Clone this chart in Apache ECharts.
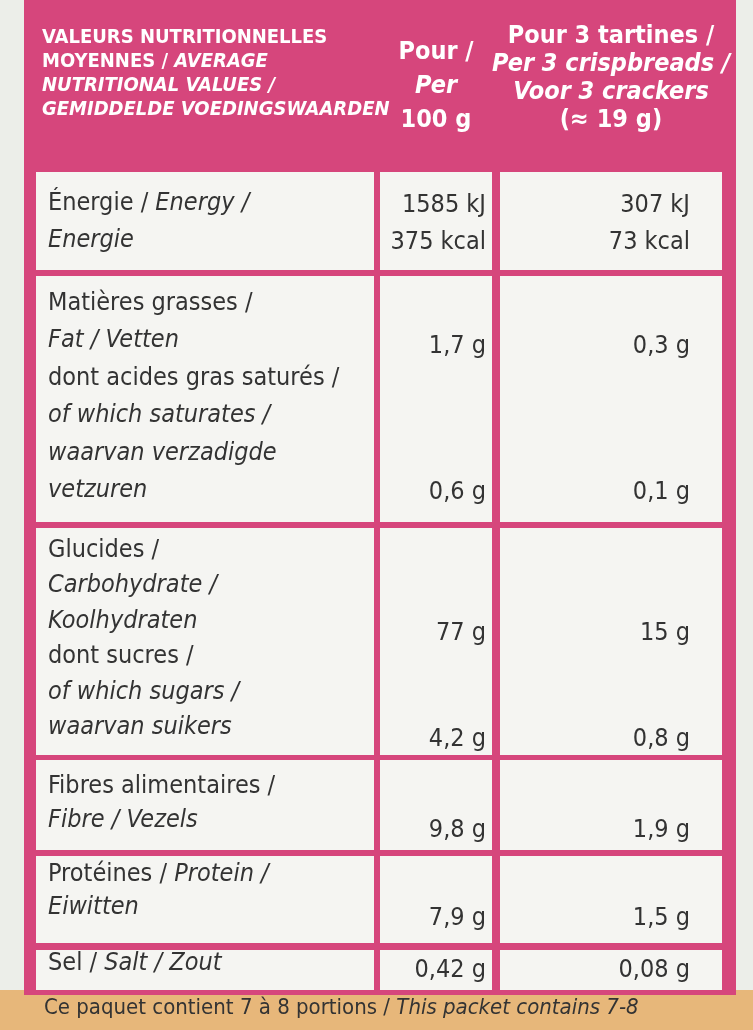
<!DOCTYPE html><html><head><meta charset="utf-8">
<script src="https://cdn.jsdelivr.net/npm/echarts@6/dist/echarts.min.js"></script>
<style>html,body{margin:0;padding:0;background:#e9ebe8}#c{width:753px;height:1030px}</style></head><body><div id="c"></div>
<script>
const headers=[
 ["VALEURS NUTRITIONNELLES","MOYENNES / {i|AVERAGE}","{i|NUTRITIONAL VALUES /}","{i|GEMIDDELDE VOEDINGSWAARDEN}"],
 ["Pour /","{i|Per}","100 g"],
 ["Pour 3 tartines /","{i|Per 3 crispbreads /}","{i|Voor 3 crackers}","(≈ 19 g)"]
];
const rowLabels=[
 ["Énergie / {i|Energy /}","{i|Energie}"],
 ["Matières grasses /","{i|Fat / Vetten}","dont acides gras saturés /","{i|of which saturates /}","{i|waarvan verzadigde}","{i|vetzuren}"],
 ["Glucides /","{i|Carbohydrate /}","{i|Koolhydraten}","dont sucres /","{i|of which sugars /}","{i|waarvan suikers}"],
 ["Fibres alimentaires /","{i|Fibre / Vezels}"],
 ["Protéines / {i|Protein /}","{i|Eiwitten}"],
 ["Sel / {i|Salt / Zout}"]
];
const per100=[["1585 kJ","375 kcal"],["1,7 g","0,6 g"],["77 g","4,2 g"],["9,8 g"],["7,9 g"],["0,42 g"]];
const perServing=[["307 kJ","73 kcal"],["0,3 g","0,1 g"],["15 g","0,8 g"],["1,9 g"],["1,5 g"],["0,08 g"]];
const footer="Ce paquet contient 7 à 8 portions / {i|This packet contains 7-8}";

// layout
const valueY=[[205,242],[346,492],[633,739],[830],[918],[970]];
const rowTops=[172,276,528,760,856,950], rowBots=[270,522,755,850,943,990];
const firstLine=[203,303,550,786,874,963], lineH=[37,37.5,35.5,34,33,36];
const colL=[36,380,500], colR=[374,492,722];
const pink='#d6467c', font='"Liberation Sans Narrow","DejaVu Sans Condensed",sans-serif';
const rich={i:{fontStyle:'italic',fontFamily:font,fontSize:25,fill:'#333'}};
const g=[];
g.push({type:'rect',shape:{x:0,y:0,width:753,height:1030},style:{fill:'#eceee9'}});
g.push({type:'rect',shape:{x:0,y:990,width:753,height:40},style:{fill:'#e7b77a'}});
g.push({type:'rect',shape:{x:24,y:0,width:712,height:995},style:{fill:pink}});
headers.forEach((h,c)=>{
  const left=c===0;
  const fs=c===0?20:25, lh=c===0?24:28;
  const y0=c===0?38:(c===1?52:36);
  h.forEach((t,k)=>g.push({type:'text',x:left?42:(colL[c]+colR[c])/2,y:y0+k*(c===1?34:lh),
   style:{text:t,fontFamily:font,fontSize:fs,fontWeight:'bold',fill:'#fff',align:left?'left':'center',verticalAlign:'middle',
   rich:{i:{fontStyle:'italic',fontFamily:font,fontSize:fs,fontWeight:'bold',fill:'#fff'}}}}));
});
rowTops.forEach((t,r)=>{
  for(let c=0;c<3;c++) g.push({type:'rect',shape:{x:colL[c],y:t,width:colR[c]-colL[c],height:rowBots[r]-t},style:{fill:'#f5f5f2'}});
  rowLabels[r].forEach((s,k)=>g.push({type:'text',x:48,y:firstLine[r]+k*lineH[r],style:{text:s,fontFamily:font,fontSize:25,fill:'#333',verticalAlign:'middle',rich}}));
  per100[r].forEach((v,k)=>g.push({type:'text',x:486,y:valueY[r][k],style:{text:v,fontFamily:font,fontSize:25,fill:'#333',align:'right',verticalAlign:'middle'}}));
  perServing[r].forEach((v,k)=>g.push({type:'text',x:690,y:valueY[r][k],style:{text:v,fontFamily:font,fontSize:25,fill:'#333',align:'right',verticalAlign:'middle'}}));
});
g.push({type:'text',x:44,y:1008,style:{text:footer,fontFamily:font,fontSize:22,fill:'#333',verticalAlign:'middle',rich:{i:{fontStyle:'italic',fontFamily:font,fontSize:22,fill:'#333'}}}});
const ch=echarts.init(document.getElementById('c'));
ch.setOption({animation:false,graphic:g});
</script></body></html>
